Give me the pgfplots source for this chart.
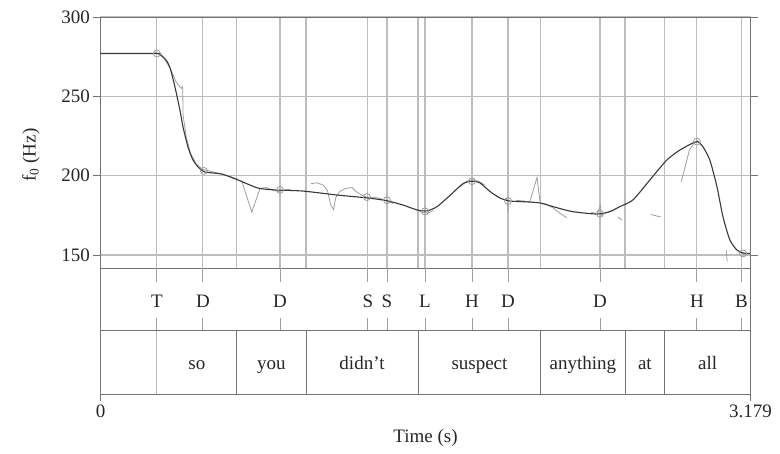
\documentclass[border=0pt]{standalone}
\usepackage{fontspec}
\setmainfont{Liberation Serif}
\usepackage{pgfplots}
\pgfplotsset{compat=1.18}
\definecolor{framec}{gray}{0.45}
\definecolor{gridc}{gray}{0.74}
\definecolor{curvec}{gray}{0.22}
\definecolor{rawc}{gray}{0.62}
\definecolor{textc}{gray}{0.15}
\begin{document}
\begin{tikzpicture}
\path[use as bounding box] (0pt,0pt) rectangle (780pt,-453pt);
\pgfplotsset{every axis/.append style={scale only axis, width=650pt, xmin=0, xmax=3.179,
  axis line style={framec, line width=0.9pt}, tick style={framec, line width=0.8pt},
  font=\fontsize{19}{22}\selectfont, text=textc,
  /pgf/number format/assume math mode=true, clip=false}}
% ---------------- pitch panel ----------------
\begin{axis}[at={(100.5pt,-17pt)}, anchor=north west, height=251pt,
  ymin=141.8, ymax=300, ytick={150,200,250,300}, tick align=outside, major tick length=7pt,
  xtick={0.276,0.501,0.667,0.878,1.005,1.308,1.401,1.553,1.587,1.817,1.993,2.154,2.443,2.565,2.760,2.917,3.135},
  xticklabels={}, xtick style={draw=none},
  xmajorgrids, ymajorgrids, grid style={gridc, line width=1.1pt},
  ylabel={f\textsubscript{0} (Hz)},
  ylabel style={at={(axis description cs:-0.107,0.45)}, anchor=center, rotate=0}]
% raw f0 fragments
\addplot[rawc, line width=0.8pt] coordinates {(0.265,278)(0.285,276.5)(0.31,274)(0.34,268)(0.37,259)(0.395,255)(0.402,256)(0.404,238)(0.42,224)(0.44,214)(0.47,207)(0.50,204)(0.53,203)(0.58,201.5)(0.63,199.5)(0.67,198)};
\addplot[rawc, line width=0.8pt] coordinates {(0.69,197)(0.74,177)(0.78,192)(0.81,192.5)(0.84,191)(0.87,190)(0.90,191)(0.93,191.5)};
\addplot[rawc, line width=0.8pt] coordinates {(1.03,195)(1.06,195.5)(1.09,194)(1.11,190.5)(1.125,182)(1.14,178.5)(1.15,186)(1.17,190)(1.20,192)(1.23,192.5)(1.25,190)(1.28,187.5)(1.31,186)(1.34,186.5)(1.37,185.5)(1.40,184)(1.43,182.5)};
\addplot[rawc, line width=0.8pt] coordinates {(1.54,179)(1.57,177)(1.60,176.5)(1.63,178)};
\addplot[rawc, line width=0.8pt] coordinates {(1.76,193)(1.79,196.5)(1.82,197.5)(1.85,196.5)(1.88,194)};
\addplot[rawc, line width=0.8pt] coordinates {(1.985,186)(1.99,183)(1.995,177)};
\addplot[rawc, line width=0.8pt] coordinates {(2.03,184.5)(2.07,184)(2.10,183.5)(2.135,199)(2.15,183)(2.18,182)(2.21,180)(2.25,176)(2.28,173.5)};
\addplot[rawc, line width=0.8pt] coordinates {(2.40,177)(2.43,176)(2.445,181)(2.45,175)(2.47,176.5)(2.50,178)};
\addplot[rawc, line width=0.8pt] coordinates {(2.53,174)(2.55,172)};
\addplot[rawc, line width=0.8pt] coordinates {(2.69,175.5)(2.74,174)};
\addplot[rawc, line width=0.8pt] coordinates {(2.84,196)(2.86,206)(2.88,216)(2.90,220)(2.92,222)(2.935,220)};
\addplot[rawc, line width=0.8pt] coordinates {(3.06,153)(3.065,146)};
\addplot[rawc, line width=0.8pt] coordinates {(3.12,152)(3.15,150.5)(3.179,151)};
% stylised contour
\addplot[curvec, line width=1.1pt, smooth, tension=0.4] coordinates {
(0,277)(0.276,277)(0.291,276.5)(0.320,273)(0.340,268)(0.364,256)(0.389,241)(0.403,231)(0.428,218)(0.452,210)(0.477,205.5)(0.511,202.3)(0.594,201)(0.672,197.3)(0.770,192.2)(0.853,191)(0.990,190.3)(1.156,187.8)(1.303,186)(1.401,184.2)(1.479,181.5)(1.548,178.4)(1.597,177.8)(1.646,180.5)(1.709,187.5)(1.773,195)(1.817,196.5)(1.856,195.4)(1.905,190)(1.954,185.9)(2.002,184)(2.066,183.6)(2.149,182.8)(2.232,179.8)(2.310,177.3)(2.428,175.8)(2.491,177.3)(2.540,180.5)(2.604,184.7)(2.687,197.3)(2.770,209.9)(2.834,216.2)(2.897,220.6)(2.921,221.4)(2.946,218.3)(2.980,209.9)(3.015,193)(3.044,174.2)(3.078,159.5)(3.112,153.2)(3.142,151.3)(3.176,151)};
% targets
\addplot[only marks, mark=o, mark size=3.5pt, rawc, mark options={line width=0.8pt}] coordinates {
(0.276,277)(0.506,203)(0.878,191)(1.303,186.5)(1.401,184.5)(1.587,177.5)(1.817,196.5)(1.993,184)(2.443,176)(2.917,221.5)(3.142,151)};
\end{axis}
% ---------------- tone tier ----------------
\begin{axis}[at={(100.5pt,-268pt)}, anchor=north west, height=62.5pt, ymin=0, ymax=1,
  xtick=\empty, ytick=\empty]
\addplot[rawc, line width=0.9pt, unbounded coords=jump] coordinates {
(0.276,1)(0.276,0.78)(0.276,nan)(0.276,0)(0.276,0.2)(0.276,nan)
(0.501,1)(0.501,0.78)(0.501,nan)(0.501,0)(0.501,0.2)(0.501,nan)
(0.878,1)(0.878,0.78)(0.878,nan)(0.878,0)(0.878,0.2)(0.878,nan)
(1.308,1)(1.308,0.78)(1.308,nan)(1.308,0)(1.308,0.2)(1.308,nan)
(1.401,1)(1.401,0.78)(1.401,nan)(1.401,0)(1.401,0.2)(1.401,nan)
(1.587,1)(1.587,0.78)(1.587,nan)(1.587,0)(1.587,0.2)(1.587,nan)
(1.817,1)(1.817,0.78)(1.817,nan)(1.817,0)(1.817,0.2)(1.817,nan)
(1.993,1)(1.993,0.78)(1.993,nan)(1.993,0)(1.993,0.2)(1.993,nan)
(2.443,1)(2.443,0.78)(2.443,nan)(2.443,0)(2.443,0.2)(2.443,nan)
(2.917,1)(2.917,0.78)(2.917,nan)(2.917,0)(2.917,0.2)(2.917,nan)
(3.135,1)(3.135,0.78)(3.135,nan)(3.135,0)(3.135,0.2)};
\foreach \t/\l in {0.276/T,0.501/D,0.878/D,1.308/S,1.401/S,1.587/L,1.817/H,1.993/D,2.443/D,2.917/H,3.135/B}{
  \edef\tmp{\noexpand\node[anchor=base, text=textc, font=\noexpand\fontsize{19}{22}\noexpand\selectfont] at (axis cs:\t,0.376) {\l};}\tmp
}
\end{axis}
% ---------------- word tier ----------------
\begin{axis}[at={(100.5pt,-330.5pt)}, anchor=north west, height=63.5pt, ymin=0, ymax=1,
  xtick={0,3.179}, xticklabels={0,3.179}, tick align=outside, major tick length=7pt, ytick=\empty,
  xlabel={Time (s)}, xlabel style={at={(axis description cs:0.5,-0.69)}, anchor=center}]
\addplot[rawc!70, line width=0.9pt] coordinates {(0.276,0)(0.276,1)};
\addplot[framec, line width=0.9pt, unbounded coords=jump] coordinates {
(0.667,0)(0.667,1)(0.667,nan)(1.005,0)(1.005,1)(1.005,nan)(1.553,0)(1.553,1)(1.553,nan)
(2.154,0)(2.154,1)(2.154,nan)(2.565,0)(2.565,1)(2.565,nan)(2.760,0)(2.760,1)};
\foreach \t/\l in {0.4715/so,0.836/you,1.279/didn't,1.8535/suspect,2.3595/anything,2.6625/at,2.9695/all}{
  \edef\tmp{\noexpand\node[anchor=base, text=textc, font=\noexpand\fontsize{19}{22}\noexpand\selectfont] at (axis cs:\t,0.386) {\l};}\tmp
}
\end{axis}
\end{tikzpicture}
\end{document}
